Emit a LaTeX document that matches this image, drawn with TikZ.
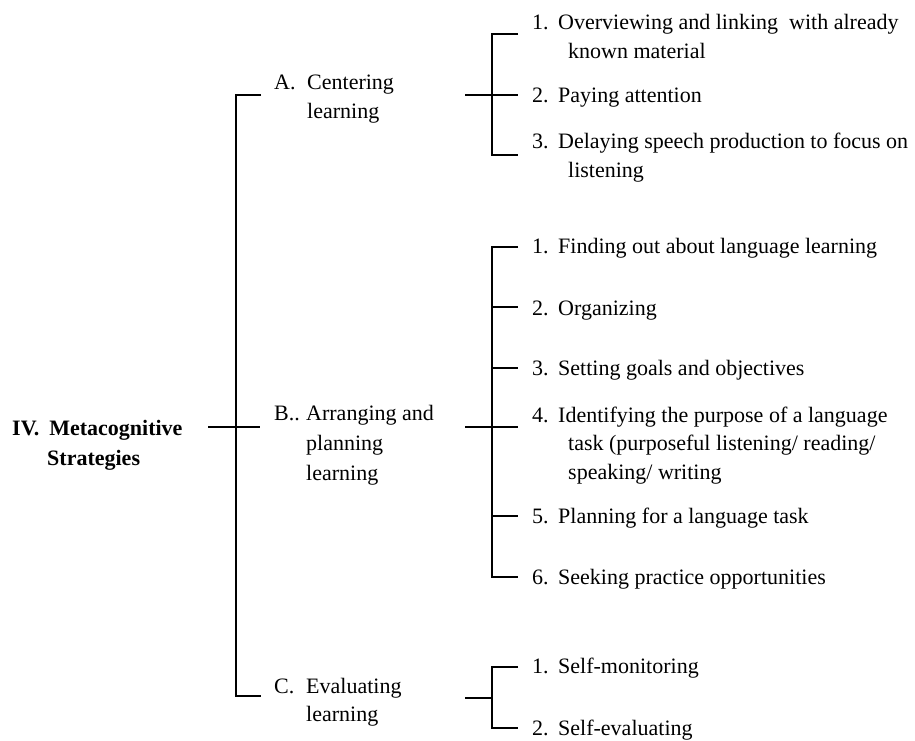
\documentclass[tikz,border=0pt]{standalone}
\usepackage{fontspec}
\setmainfont{Liberation Serif}
\begin{document}
\begin{tikzpicture}[x=1pt,y=-1pt,
  txt/.style={anchor=base west, inner sep=0pt, font=\fontsize{22}{28.5}\selectfont},
  ttl/.style={anchor=base west, inner sep=0pt, font=\fontsize{22}{30}\selectfont\bfseries},
  br/.style={line width=2.8pt, line join=miter}]
\useasboundingbox (0,0) rectangle (915,741);

% title
\node[ttl] (T) at (12,435) {\parbox[t]{200pt}{IV.\hspace{10pt}Metacognitive\\\hspace*{35pt}Strategies}};

% level-2 labels
\node[txt] (An) at (274,90) {A.};
\node[txt] (A) at (307,90) {\parbox[t]{150pt}{Centering\\learning}};
\node[txt] (Bn) at (274,420) {B..};
\node[txt] (B) at (306,420) {\parbox[t]{150pt}{\fontsize{22}{30}\selectfont Arranging and\\planning\\learning}};
\node[txt] (Cn) at (274,693) {C.};
\node[txt] (C) at (306,693) {\parbox[t]{150pt}{Evaluating\\learning}};

% A items
\node[txt] (a1n) at (532,30) {1.};
\node[txt] (a1) at (558,30) {\parbox[t]{350pt}{\raggedright Overviewing and linking~ with already\\\hspace*{10pt}known material}};
\node[txt] (a2n) at (532,103) {2.};
\node[txt] (a2) at (558,103) {Paying attention};
\node[txt] (a3n) at (532,149) {3.};
\node[txt] (a3) at (558,149) {\parbox[t]{350pt}{\raggedright Delaying speech production to focus on\\\hspace*{10pt}listening}};

% B items
\node[txt] (b1n) at (532,253) {1.};
\node[txt] (b1) at (558,253) {Finding out about language learning};
\node[txt] (b2n) at (532,315) {2.};
\node[txt] (b2) at (558,315) {Organizing};
\node[txt] (b3n) at (532,375) {3.};
\node[txt] (b3) at (558,375) {Setting goals and objectives};
\node[txt] (b4n) at (532,422) {4.};
\node[txt] (b4) at (558,422) {\parbox[t]{350pt}{\raggedright Identifying the purpose of a language\\\hspace*{10pt}task (purposeful listening/ reading/\\\hspace*{10pt}speaking/ writing}};
\node[txt] (b5n) at (532,523) {5.};
\node[txt] (b5) at (558,523) {Planning for a language task};
\node[txt] (b6n) at (532,584) {6.};
\node[txt] (b6) at (558,584) {Seeking practice opportunities};

% C items
\node[txt] (c1n) at (532,673) {1.};
\node[txt] (c1) at (558,673) {Self-monitoring};
\node[txt] (c2n) at (532,735) {2.};
\node[txt] (c2) at (558,735) {Self-evaluating};

% main bracket
\coordinate (m0) at (261,95);
\coordinate (m1) at (236,95);
\coordinate (m2) at (236,696);
\coordinate (m3) at (261,696);
\coordinate (mL) at (208,427);
\coordinate (mR) at (260,427);
\draw[br] (m0) -- (m1) -- (m2) -- (m3);
\draw[br] (mL) -- (mR);

% A bracket
\coordinate (aT) at (518,34);
\coordinate (aTv) at (492,34);
\coordinate (aBv) at (492,155);
\coordinate (aB) at (518,155);
\coordinate (aL) at (465,95);
\coordinate (aR) at (518,95);
\draw[br] (aT) -- (aTv) -- (aBv) -- (aB);
\draw[br] (aL) -- (aR);

% B bracket
\coordinate (bT) at (518,247);
\coordinate (bTv) at (492,247);
\coordinate (bBv) at (492,577);
\coordinate (bB) at (518,577);
\draw[br] (bT) -- (bTv) -- (bBv) -- (bB);
\foreach \yy/\nm in {307/b2, 368/b3, 516/b5}{
  \coordinate (\nm s) at (492,\yy);
  \coordinate (\nm e) at (518,\yy);
  \draw[br] (\nm s) -- (\nm e);
}
\coordinate (bL) at (465,427);
\coordinate (bR) at (518,427);
\draw[br] (bL) -- (bR);

% C bracket
\coordinate (cT) at (518,667);
\coordinate (cTv) at (492,667);
\coordinate (cBv) at (492,728);
\coordinate (cB) at (518,728);
\coordinate (cL) at (465,698);
\coordinate (cM) at (492,698);
\draw[br] (cT) -- (cTv) -- (cBv) -- (cB);
\draw[br] (cL) -- (cM);
\end{tikzpicture}
\end{document}
